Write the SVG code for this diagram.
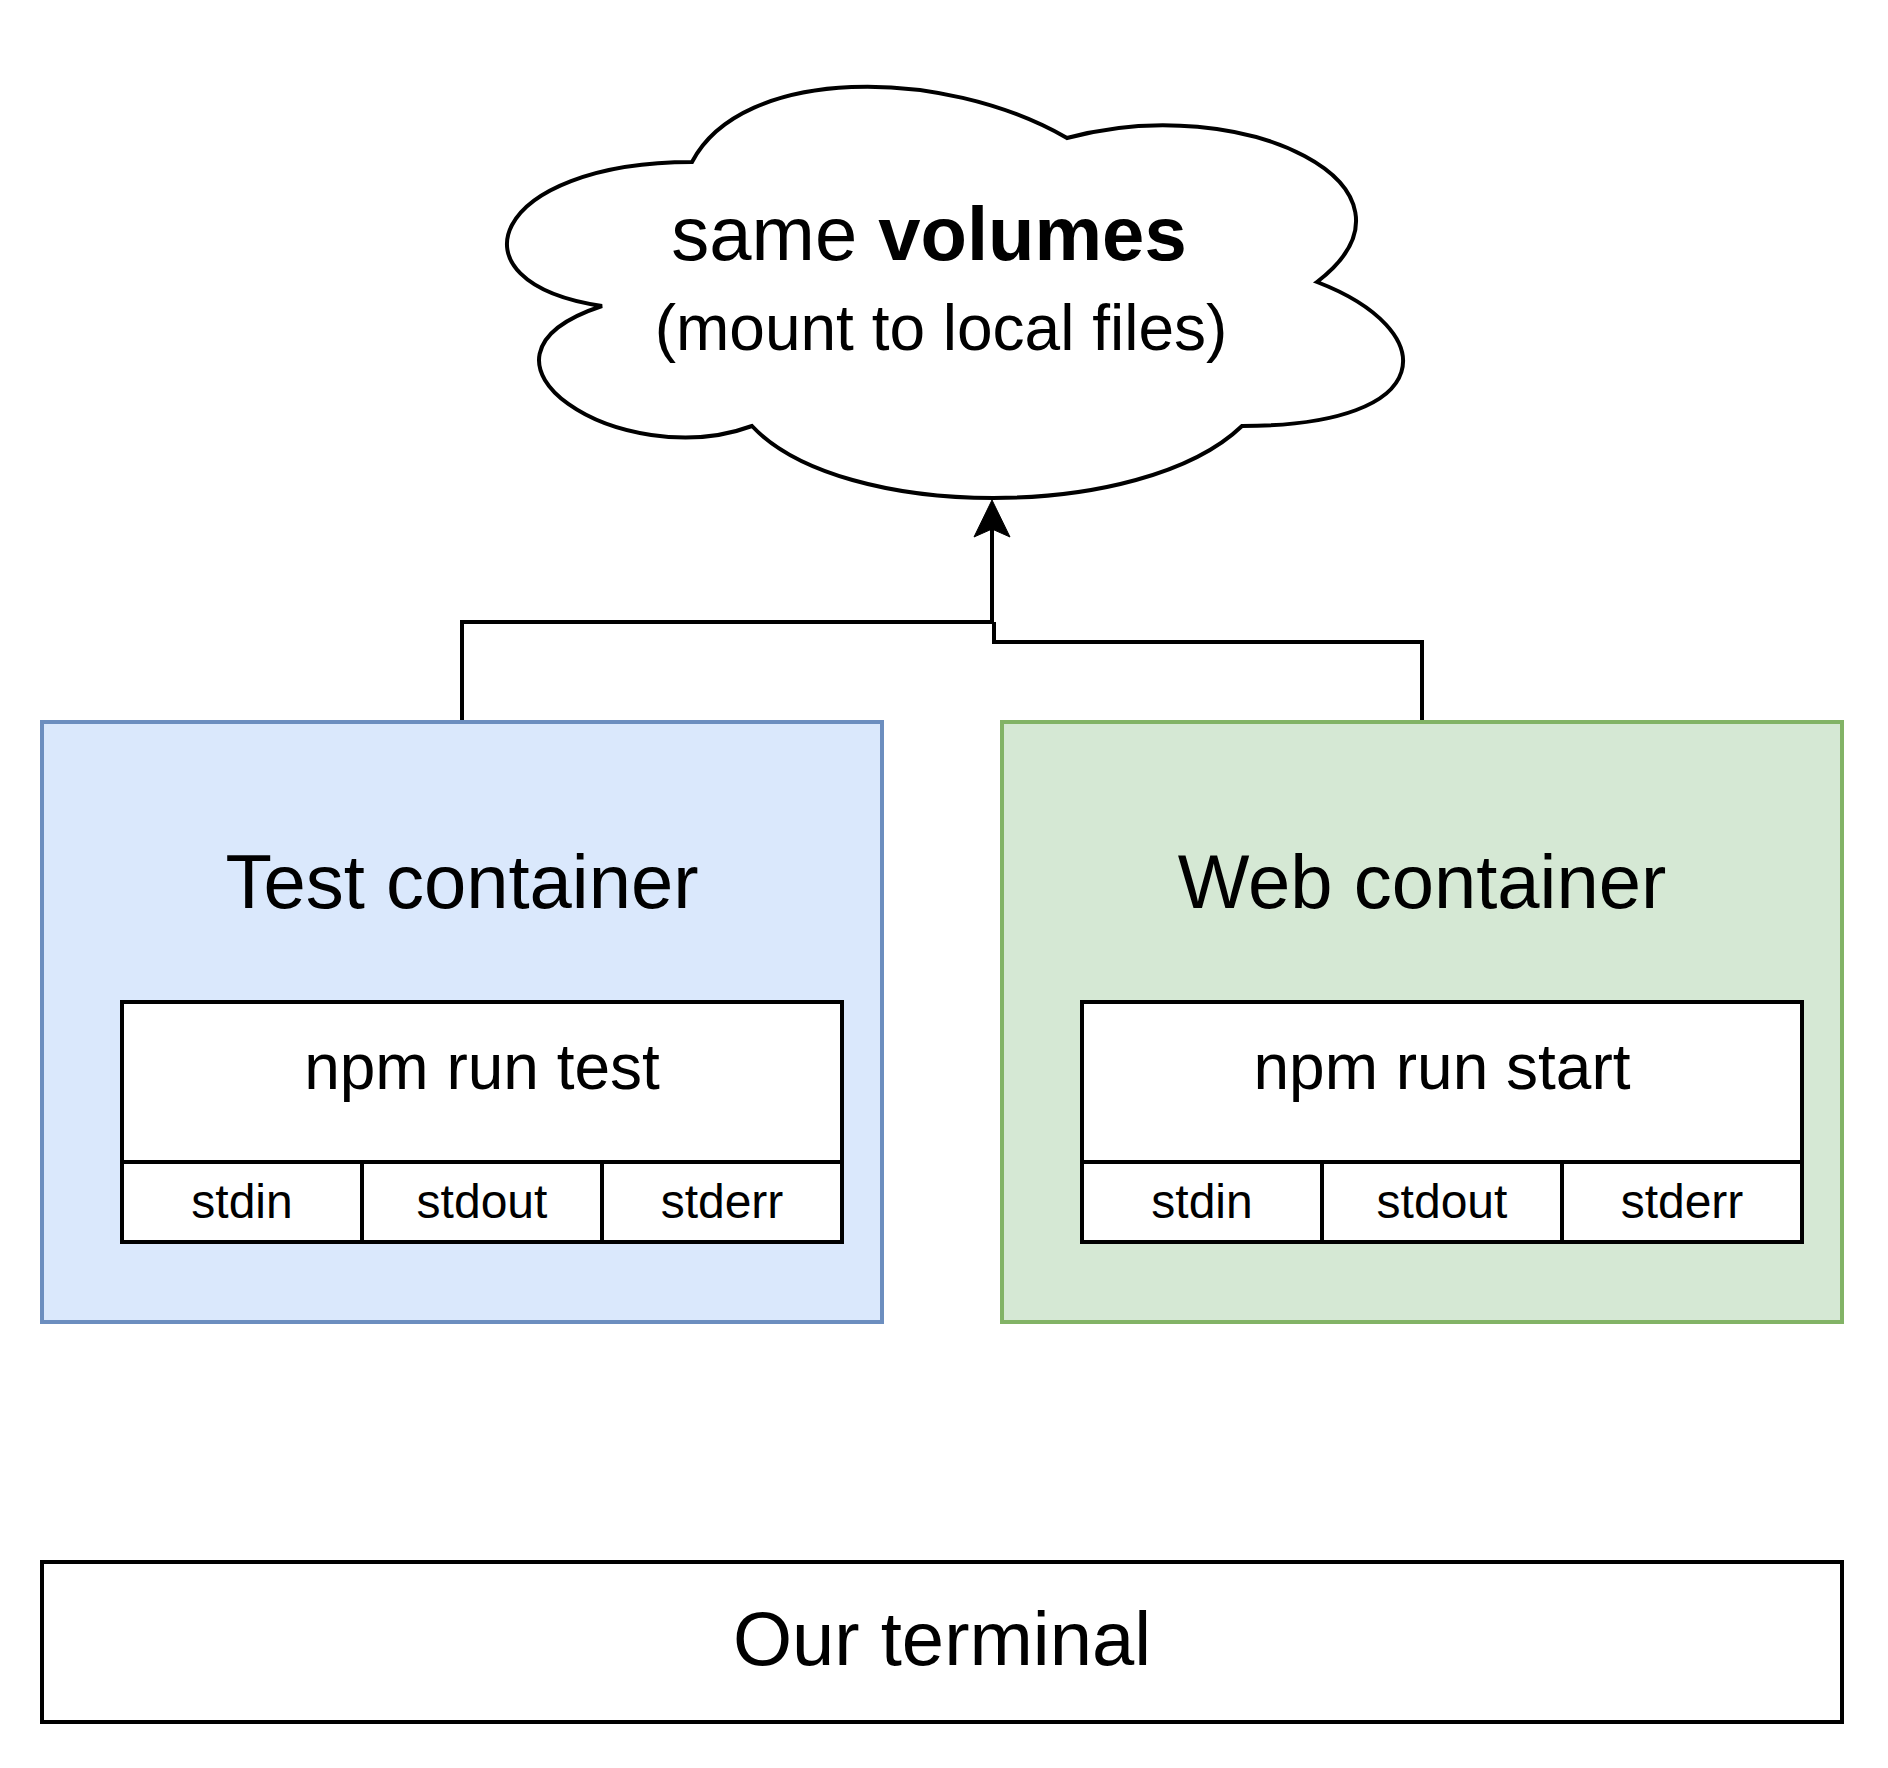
<svg xmlns="http://www.w3.org/2000/svg" width="1888" height="1768" viewBox="0 0 1888 1768">
<style>
  text { font-family: "Liberation Sans", Arial, Helvetica, sans-serif; fill: #000; text-anchor: middle; }
  .big { font-size: 76px; }
  .mid { font-size: 64px; }
  .small { font-size: 48px; }
  .box { stroke: #000; stroke-width: 4; fill: #fff; }
  .edge { fill: none; stroke: #000; stroke-width: 4; }
</style>
<defs>
  <marker id="arrow" viewBox="0 0 40 40" markerUnits="userSpaceOnUse" markerWidth="40" markerHeight="40" refX="8" refY="20" orient="auto" overflow="visible">
    <path d="M0,2 L37,20 L0,38 L8,20 Z" fill="#000" stroke="#000" stroke-width="1"/>
  </marker>
</defs>
<rect width="1888" height="1768" fill="#fff"/>

<g id="cloud">
  <path d="M692,162 C492,162 442,282 602,306 C442,359 622,474 752,426 C842,522 1142,522 1242,426 C1442,426 1442,330 1317,282 C1442,186 1242,90 1067,138 C942,66 742,66 692,162 Z" fill="#fff" stroke="#000" stroke-width="4"/>
  <text class="big" x="929" y="260">same <tspan font-weight="bold">volumes</tspan></text>
  <text class="mid" x="941" y="350">(mount to local files)</text>
</g>

<g id="connectors">
  <path class="edge" d="M462,722 V622 H992 V529" marker-end="url(#arrow)"/>
  <path class="edge" d="M1422,722 V642 H994 V622"/>
</g>

<g id="test-container">
  <rect x="42" y="722" width="840" height="600" fill="#dae8fc" stroke="#6c8ebf" stroke-width="4"/>
  <text class="big" x="462" y="908">Test container</text>
  <g id="test-process">
    <rect class="box" x="122" y="1002" width="720" height="160"/>
    <text class="mid" x="482" y="1089">npm run test</text>
    <rect class="box" x="122" y="1162" width="240" height="80"/>
    <rect class="box" x="362" y="1162" width="240" height="80"/>
    <rect class="box" x="602" y="1162" width="240" height="80"/>
    <text class="small" x="242" y="1218">stdin</text>
    <text class="small" x="482" y="1218">stdout</text>
    <text class="small" x="722" y="1218">stderr</text>
  </g>
</g>

<g id="web-container">
  <rect x="1002" y="722" width="840" height="600" fill="#d5e8d4" stroke="#82b366" stroke-width="4"/>
  <text class="big" x="1422" y="908">Web container</text>
  <g id="web-process">
    <rect class="box" x="1082" y="1002" width="720" height="160"/>
    <text class="mid" x="1442" y="1089">npm run start</text>
    <rect class="box" x="1082" y="1162" width="240" height="80"/>
    <rect class="box" x="1322" y="1162" width="240" height="80"/>
    <rect class="box" x="1562" y="1162" width="240" height="80"/>
    <text class="small" x="1202" y="1218">stdin</text>
    <text class="small" x="1442" y="1218">stdout</text>
    <text class="small" x="1682" y="1218">stderr</text>
  </g>
</g>

<g id="terminal">
  <rect class="box" x="42" y="1562" width="1800" height="160"/>
  <text class="big" x="942" y="1665">Our terminal</text>
</g>
</svg>
